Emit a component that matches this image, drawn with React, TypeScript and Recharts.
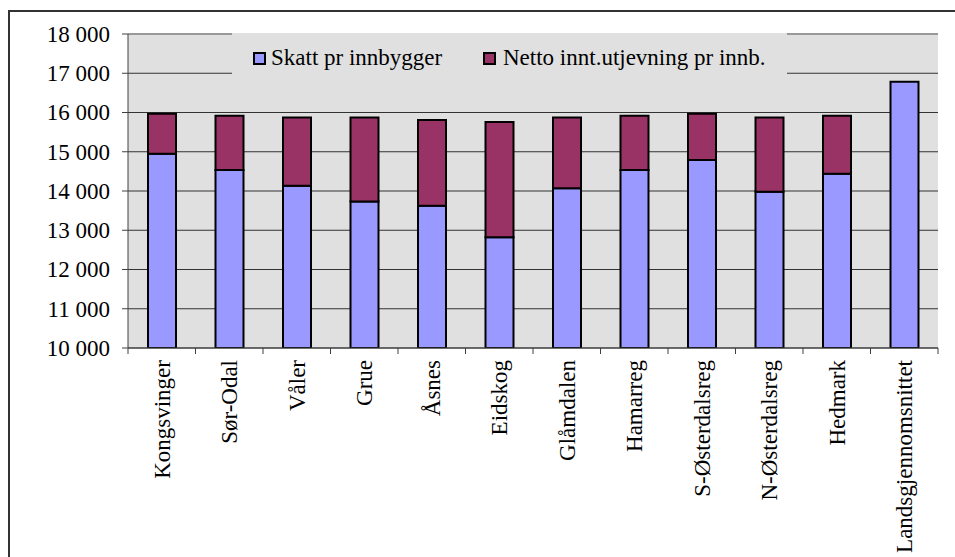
import React from 'react';
import { BarChart, Bar, XAxis, YAxis, CartesianGrid, Legend, ReferenceLine } from 'recharts';

const categories = [
  'Kongsvinger', 'Sør-Odal', 'Våler', 'Grue', 'Åsnes', 'Eidskog',
  'Glåmdalen', 'Hamarreg', 'S-Østerdalsreg', 'N-Østerdalsreg', 'Hedmark', 'Landsgjennomsnittet',
];
const skattValues = [14950, 14535, 14135, 13730, 13625, 12820, 14070, 14535, 14790, 13980, 14440, 16785];
const nettoValues = [1020, 1380, 1735, 2145, 2185, 2940, 1805, 1385, 1180, 1890, 1480, 0];
const yTicks = [10000, 11000, 12000, 13000, 14000, 15000, 16000, 17000, 18000];
const seriesNames = ['Skatt pr innbygger', 'Netto innt.utjevning pr innb.'];
const seriesColors = ['#9999FF', '#993366'];

const data = categories.map((name, i) => ({ name, skatt: skattValues[i], netto: nettoValues[i] }));

const FONT = "'Liberation Serif', 'Times New Roman', Times, serif";
const PLOT_BG = '#e0e0e0';

const fmt = (v: number) => String(v).replace(/\B(?=(\d{3})+(?!\d))/g, ' ');

function XTick(props: any) {
  const { x, y, payload, index } = props;
  const off = payload && payload.offset ? payload.offset : 0;
  const lineTop = y - 12;
  return (
    <g>
      <line x1={x - off} x2={x - off} y1={lineTop} y2={lineTop + 6} stroke="#404040" />
      {index === categories.length - 1 && (
        <line x1={x + off} x2={x + off} y1={lineTop} y2={lineTop + 6} stroke="#404040" />
      )}
      <text
        x={x}
        y={y}
        transform={`rotate(-90, ${x}, ${y})`}
        textAnchor="end"
        dy="0.35em"
        style={{ fontFamily: FONT, fontSize: 23, fill: '#000' }}
      >
        {payload.value}
      </text>
    </g>
  );
}

function YTick(props: any) {
  const { x, y, payload } = props;
  return (
    <text
      x={x}
      y={y}
      textAnchor="end"
      dy="0.34em"
      style={{ fontFamily: FONT, fontSize: 23, fill: '#000' }}
    >
      {fmt(payload.value)}
    </text>
  );
}

const squareLefts = [21, 251];
const textLefts = [39, 271];

function LegendContent() {
  return (
    <div style={{ position: 'relative', width: 555, height: 48, background: PLOT_BG }}>
      {seriesNames.map((n, i) => (
        <React.Fragment key={n}>
          <div
            style={{
              position: 'absolute',
              left: squareLefts[i],
              top: 19,
              width: 13,
              height: 13,
              boxSizing: 'border-box',
              border: '2px solid #000',
              background: seriesColors[i],
            }}
          />
          <span
            style={{
              position: 'absolute',
              left: textLefts[i],
              top: 12.7,
              fontFamily: FONT,
              fontSize: 23,
              lineHeight: '23px',
              whiteSpace: 'nowrap',
              color: '#000',
            }}
          >
            {n}
          </span>
        </React.Fragment>
      ))}
    </div>
  );
}

export default function App() {
  return (
    <>
      <div
        style={{
          position: 'absolute',
          left: 8,
          top: 10,
          width: 947,
          height: 547,
          boxSizing: 'border-box',
          borderTop: '2px solid #333',
          borderLeft: '2px solid #333',
        }}
      />
      <div style={{ position: 'absolute', left: 0, top: 0 }}>
        <BarChart width={955} height={557} data={data} margin={{ top: 34, right: 17, left: 0, bottom: 9 }}>
          <CartesianGrid yAxisId="left" vertical={false} stroke="#333" fill={PLOT_BG} fillOpacity={1} />
          <XAxis
            dataKey="name"
            interval={0}
            tickLine={false}
            tickSize={6}
            tickMargin={6}
            height={200}
            axisLine={{ stroke: '#404040' }}
            tick={<XTick />}
          />
          <YAxis
            yAxisId="left"
            domain={[10000, 18000]}
            ticks={yTicks}
            interval={0}
            allowDataOverflow
            width={128}
            tickSize={6}
            tickMargin={12}
            axisLine={{ stroke: '#404040' }}
            tickLine={{ stroke: '#404040' }}
            tick={<YTick />}
          />
          <YAxis
            yAxisId="right"
            orientation="right"
            width={0}
            tick={false}
            tickLine={false}
            axisLine={{ stroke: '#999', strokeWidth: 2 }}
          />
          <ReferenceLine yAxisId="left" y={18000} stroke="#999" strokeWidth={2} />
          <Bar
            yAxisId="left"
            dataKey="skatt"
            name={seriesNames[0]}
            stackId="a"
            fill={seriesColors[0]}
            stroke="#000"
            strokeWidth={2}
            barSize={28}
            isAnimationActive={false}
          />
          <Bar
            yAxisId="left"
            dataKey="netto"
            name={seriesNames[1]}
            stackId="a"
            fill={seriesColors[1]}
            stroke="#000"
            strokeWidth={2}
            barSize={28}
            isAnimationActive={false}
          />
          <Legend
            layout="horizontal"
            verticalAlign="middle"
            align="center"
            content={LegendContent}
            wrapperStyle={{ left: 232, top: 33, width: 555, height: 48 }}
          />
        </BarChart>
      </div>
    </>
  );
}
